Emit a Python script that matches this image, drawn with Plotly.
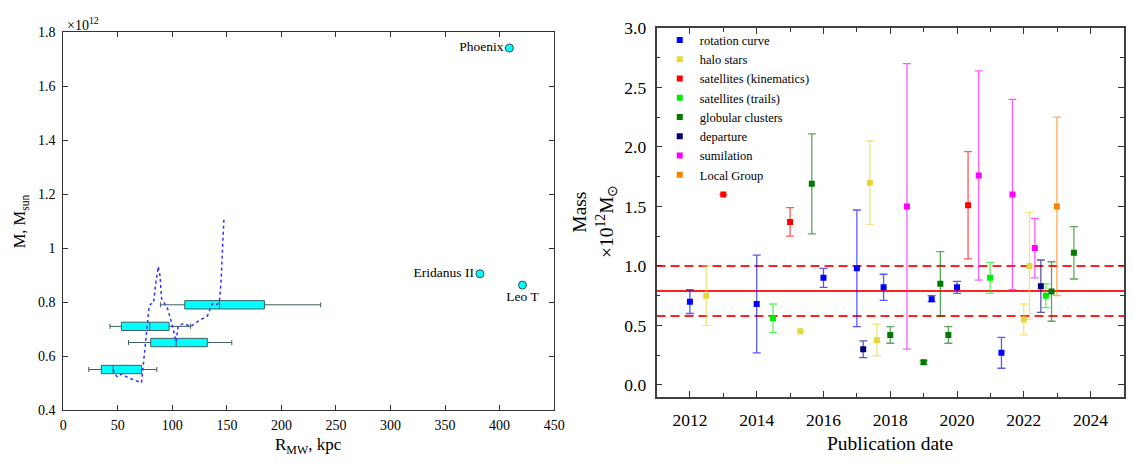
import plotly.graph_objects as go

FONT = "Liberation Serif, Times New Roman, serif"

# ---------------- Left panel data (mass in units of 1e12 Msun) ----------------
box_pos = [0.55, 0.65, 0.71, 0.79]
box_lower = [23.4, 59.8, 42.8, 89.1]
box_q1 = [34.9, 80.2, 53.3, 111.4]
box_median = [45.7, 103.5, 79.3, 143.3]
box_q3 = [71.7, 132.1, 97.0, 184.4]
box_upper = [85.8, 154.5, 116.7, 236.0]

curve_r = [45.7, 48.3, 50.0, 53.3, 59.8, 68.7, 71.7, 73.3, 76.3, 78.6, 79.9, 82.8,
           84.5, 87.1, 88.7, 90.1, 92.7, 96.0, 99.3, 101.6, 103.5, 105.2, 106.5,
           110.8, 116.7, 123.9, 132.1, 136.5, 139.4, 143.0, 144.6, 147.3]
curve_m = [0.550, 0.528, 0.522, 0.534, 0.519, 0.507, 0.501, 0.564, 0.683, 0.778,
           0.792, 0.796, 0.861, 0.932, 0.897, 0.814, 0.796, 0.772, 0.724, 0.683,
           0.653, 0.707, 0.715, 0.721, 0.709, 0.730, 0.748, 0.793, 0.790, 0.796,
           0.873, 1.110]

dwarf_names = ["Phoenix", "Eridanus II", "Leo T"]
dwarf_r = [409, 382, 421]
dwarf_m = [1.742, 0.905, 0.863]
dwarf_textpos = ["middle left", "middle left", "bottom center"]

# ---------------- Right panel data (mass in 1e12 Msun) ----------------
rot_year = [2012.0, 2014.0, 2016.0, 2017.0, 2017.8, 2019.24, 2020.0, 2021.33]
rot_mass = [0.70, 0.68, 0.90, 0.98, 0.82, 0.72, 0.82, 0.27]
rot_hi = [0.80, 1.09, 0.98, 1.47, 0.93, 0.75, 0.87, 0.40]
rot_lo = [0.60, 0.27, 0.82, 0.49, 0.71, 0.70, 0.77, 0.14]

halo_year = [2012.49, 2015.31, 2017.39, 2017.6, 2022.0, 2022.17]
halo_mass = [0.75, 0.45, 1.70, 0.375, 0.55, 1.00]
halo_hi = [1.00, None, 2.05, 0.51, 0.68, 1.45]
halo_lo = [0.50, None, 1.35, 0.245, 0.42, 0.55]

satk_year = [2013.0, 2015.0, 2020.33]
satk_mass = [1.60, 1.37, 1.51]
satk_hi = [None, 1.49, 1.96]
satk_lo = [None, 1.25, 1.06]

satt_year = [2014.49, 2020.99, 2022.66]
satt_mass = [0.56, 0.90, 0.75]
satt_hi = [0.68, 1.03, 0.85]
satt_lo = [0.44, 0.77, 0.65]

glob_year = [2015.65, 2018.0, 2019.0, 2019.5, 2019.74, 2022.83, 2023.5]
glob_mass = [1.69, 0.42, 0.19, 0.85, 0.42, 0.785, 1.11]
glob_hi = [2.11, 0.49, 0.205, 1.12, 0.49, 1.035, 1.33]
glob_lo = [1.27, 0.35, 0.175, 0.58, 0.35, 0.535, 0.89]

dep_year = [2017.19, 2022.51]
dep_mass = [0.30, 0.83]
dep_hi = [0.37, 1.05]
dep_lo = [0.23, 0.61]

sim_year = [2018.5, 2020.65, 2021.66, 2022.33]
sim_mass = [1.50, 1.76, 1.60, 1.15]
sim_hi = [2.70, 2.64, 2.40, 1.40]
sim_lo = [0.30, 0.88, 0.80, 0.90]

lg_year = [2022.99]
lg_mass = [1.50]
lg_hi = [2.25]
lg_lo = [0.75]

mean_mass = 0.79
band_hi = 1.00
band_lo = 0.58

series = [
    ("rotation curve", "#0000FF", rot_year, rot_mass, rot_hi, rot_lo),
    ("halo stars", "#E5D83A", halo_year, halo_mass, halo_hi, halo_lo),
    ("satellites (kinematics)", "#FF0000", satk_year, satk_mass, satk_hi, satk_lo),
    ("satellites (trails)", "#00EE00", satt_year, satt_mass, satt_hi, satt_lo),
    ("globular clusters", "#007A00", glob_year, glob_mass, glob_hi, glob_lo),
    ("departure", "#00007A", dep_year, dep_mass, dep_hi, dep_lo),
    ("sumilation", "#FF00FF", sim_year, sim_mass, sim_hi, sim_lo),
    ("Local Group", "#FF8000", lg_year, lg_mass, lg_hi, lg_lo),
]


def rgba(hexc, a):
    h = hexc.lstrip("#")
    r, g, b = int(h[0:2], 16), int(h[2:4], 16), int(h[4:6], 16)
    return f"rgba({r},{g},{b},{a})"


fig = go.Figure()

# ---- left panel ----
fig.add_trace(go.Box(
    orientation="h", y=box_pos, q1=box_q1, median=box_median, q3=box_q3,
    lowerfence=box_lower, upperfence=box_upper, width=0.031, whiskerwidth=0.6,
    fillcolor="#00FFFF", line=dict(color="#3F5F5F", width=1),
    xaxis="x", yaxis="y", showlegend=False, boxpoints=False, hoverinfo="skip"))

fig.add_trace(go.Scatter(
    x=curve_r, y=curve_m, mode="lines", line=dict(color="rgb(50,50,255)", width=1.5, dash="dot"),
    xaxis="x", yaxis="y", showlegend=False))

fig.add_trace(go.Scatter(
    x=dwarf_r, y=dwarf_m, mode="markers+text", text=dwarf_names, textposition=dwarf_textpos,
    textfont=dict(family=FONT, size=13.5, color="black"),
    marker=dict(symbol="circle", size=8, color="#00FFFF", line=dict(color="#2F4F4F", width=1)),
    xaxis="x", yaxis="y", showlegend=False))

# ---- right panel ----
for name, color, yr, m, hi, lo in series:
    plus = [(h - v) if h is not None else None for h, v in zip(hi, m)]
    minus = [(v - l) if l is not None else None for l, v in zip(lo, m)]
    fig.add_trace(go.Scatter(
        x=yr, y=m, mode="markers", name=name,
        marker=dict(symbol="square", size=6, color=color),
        error_y=dict(type="data", array=plus, arrayminus=minus, symmetric=False,
                     color=rgba(color, 0.65), thickness=1.3, width=4),
        xaxis="x2", yaxis="y2"))

for yv, dash in [(mean_mass, "solid"), (band_hi, "9px,5px"), (band_lo, "9px,5px")]:
    fig.add_shape(type="line", xref="x2 domain", yref="y2", x0=0, x1=1, y0=yv, y1=yv,
                  line=dict(color="#FF2020", width=2, dash=dash), layer="below")

tick_font_l = dict(family=FONT, size=14, color="black")
tick_font_r = dict(family=FONT, size=17.5, color="black")

fig.update_layout(
    width=1134, height=467, margin=dict(l=0, r=0, t=0, b=0),
    paper_bgcolor="white", plot_bgcolor="white",
    font=dict(family=FONT, color="black"),
    xaxis=dict(domain=[0.0529, 0.4912], range=[0, 450], dtick=50, tick0=0,
               ticks="inside", ticklen=5, tickcolor="#333", mirror="ticks",
               showline=True, linecolor="#333", linewidth=1, showgrid=False, zeroline=False,
               tickfont=tick_font_l, ticklabelstandoff=2, anchor="y"),
    yaxis=dict(domain=[0.1092, 0.9501], range=[0.4, 1.8], dtick=0.2, tick0=0.4,
               ticks="inside", ticklen=5, tickcolor="#333", mirror="ticks",
               showline=True, linecolor="#333", linewidth=1, showgrid=False, zeroline=False,
               tickfont=tick_font_l, ticklabelstandoff=4, anchor="x"),
    xaxis2=dict(domain=[0.5826, 1.0], range=[2011, 2025], dtick=2, tick0=2012,
                ticks="inside", ticklen=6, tickcolor="#333", tickwidth=1.2, mirror="ticks",
                minor=dict(dtick=1, ticks="inside", ticklen=4, tickcolor="#333"),
                showline=True, linecolor="#404040", linewidth=1.6, showgrid=False, zeroline=False,
                tickfont=tick_font_r, ticklabelstandoff=6, anchor="y2"),
    yaxis2=dict(domain=[0.1385, 0.96], range=[-0.1, 3.0], dtick=0.5, tick0=0, tickformat=".1f",
                ticks="inside", ticklen=6, tickcolor="#333", tickwidth=1.2, mirror="ticks",
                minor=dict(dtick=0.25, ticks="inside", ticklen=4, tickcolor="#333"),
                showline=True, linecolor="#404040", linewidth=1.6, showgrid=False, zeroline=False,
                tickfont=tick_font_r, ticklabelstandoff=5, anchor="x2"),
    legend=dict(x=0.5855, y=0.966, xanchor="left", yanchor="top", bgcolor="rgba(0,0,0,0)",
                font=dict(family=FONT, size=12.5, color="black"), tracegroupgap=0),
    showlegend=True,
)

ann = [
    dict(text="×10<sup>12</sup>", x=62 / 1134, y=1 - 15 / 467, xanchor="left", yanchor="middle",
         font=dict(size=14)),
    dict(text="M, M<sub>sun</sub>", x=16 / 1134, y=1 - 220 / 467, textangle=-90,
         xanchor="center", yanchor="middle", font=dict(size=16.5)),
    dict(text="R<sub>MW</sub>, kpc", x=308.5 / 1134, y=1 - 453 / 467,
         xanchor="center", yanchor="middle", font=dict(size=17)),
    dict(text="Mass", x=583 / 1134, y=1 - 210 / 467, textangle=-90,
         xanchor="center", yanchor="middle", font=dict(size=19.5)),
    dict(text="×10<sup>12</sup>M<sub>⊙</sub>", x=610 / 1134, y=1 - 220 / 467, textangle=-90,
         xanchor="center", yanchor="middle", font=dict(size=19.5)),
    dict(text="Publication date", x=897 / 1134, y=1 - 451 / 467,
         xanchor="center", yanchor="middle", font=dict(size=19.5)),
]
for a in ann:
    a.update(xref="paper", yref="paper", showarrow=False)
    a["font"].update(family=FONT, color="black")
    fig.add_annotation(**a)

fig.write_html("out.html", config={"displayModeBar": False},
               post_script="document.body.style.margin='0';document.body.style.overflow='hidden';")
